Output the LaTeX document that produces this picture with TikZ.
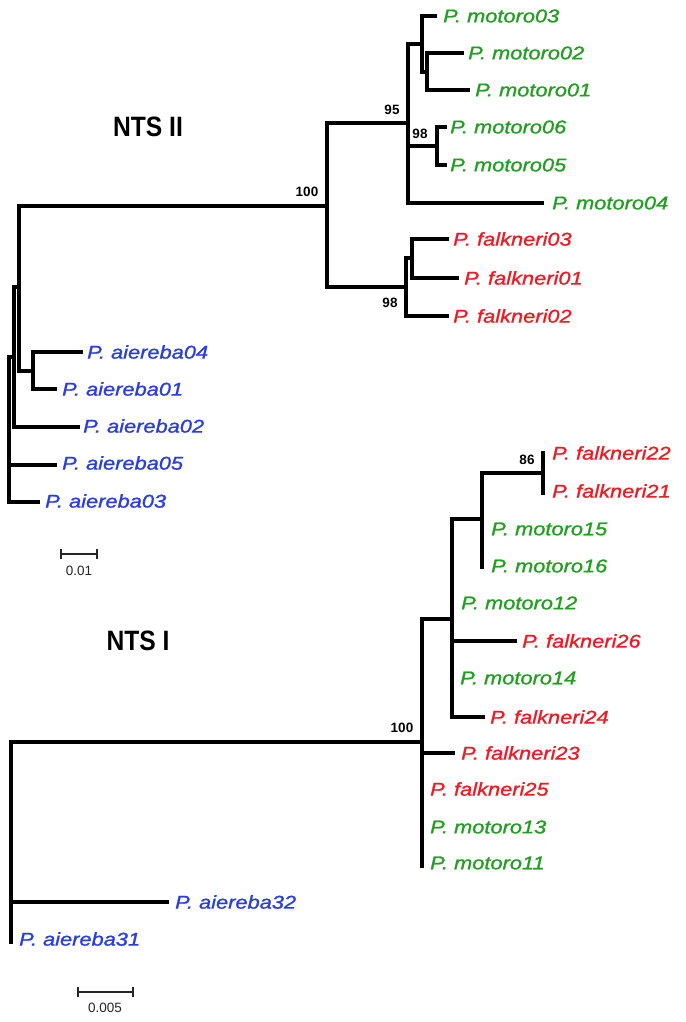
\documentclass[tikz,border=0pt]{standalone}
\usepackage{fontspec}
\setmainfont{Liberation Sans}
\newfontfamily\taxfont[FakeStretch=1.18,FakeBold=1.2]{Liberation Sans}
\newfontfamily\ntsfont[FakeStretch=0.88]{Liberation Sans}
\definecolor{mgreen}{RGB}{34,158,34}
\definecolor{fred}{RGB}{236,28,36}
\definecolor{ablue}{RGB}{42,62,222}
\tikzset{
  br/.style={line width=3.6pt, line join=miter, line cap=rect},
  tax/.style={anchor=west, inner sep=0pt, font=\taxfont\fontsize{18.5}{19}\selectfont\itshape},
  grn/.style={tax, text=mgreen},
  rd/.style={tax, text=fred},
  bl/.style={tax, text=ablue},
  boot/.style={inner sep=0pt, font=\fontsize{13.5}{14}\selectfont\bfseries},
  ntslab/.style={inner sep=0pt, font=\ntsfont\fontsize{28}{30}\selectfont\bfseries},
  sbar/.style={line width=1.6pt, black!85},
  slab/.style={inner sep=0pt, font=\fontsize{13.5}{14}\selectfont, text=black!85}
}
\begin{document}
\begin{tikzpicture}[x=1pt,y=-1pt]
\useasboundingbox (0,0) rectangle (685,1022);
% ================= NTS II =================
\node[ntslab] (ntsII) at (148,127) {NTS II};
% leaves
\node[grn] (m03) at (443,16) {P. motoro03};
\node[grn] (m02) at (468,53) {P. motoro02};
\node[grn] (m01) at (475,90) {P. motoro01};
\node[grn] (m06) at (450,127) {P. motoro06};
\node[grn] (m05) at (450,165) {P. motoro05};
\node[grn] (m04) at (552,203) {P. motoro04};
\node[rd] (f03) at (453,239) {P. falkneri03};
\node[rd] (f01) at (464,278) {P. falkneri01};
\node[rd] (f02) at (453,316) {P. falkneri02};
\node[bl] (a04) at (87,352) {P. aiereba04};
\node[bl] (a01) at (62,389) {P. aiereba01};
\node[bl] (a02) at (83,426) {P. aiereba02};
\node[bl] (a05) at (62,463) {P. aiereba05};
\node[bl] (a03) at (45,501) {P. aiereba03};
% tips
\coordinate (t03) at (435,16);
\coordinate (t02) at (462,53);
\coordinate (t01) at (468,90);
\coordinate (t06) at (445,127);
\coordinate (t05) at (445,165);
\coordinate (t04) at (542,203);
\coordinate (tf03) at (447,239);
\coordinate (tf01) at (457,278);
\coordinate (tf02) at (447,316);
\coordinate (ta04) at (81,352);
\coordinate (ta01) at (55,389);
\coordinate (ta02) at (78,427);
\coordinate (ta05) at (55,465);
\coordinate (ta03) at (38,502);
% internal nodes
\coordinate (Atop) at (9,357);
\coordinate (Abot) at (9,502);
\coordinate (B) at (14,357);
\coordinate (C) at (19,287);
\coordinate (E) at (33,371);
\coordinate (D) at (327,206);
\coordinate (H) at (408,123);
\coordinate (F) at (422,44);
\coordinate (G) at (427,72);
\coordinate (M) at (437,146);
\coordinate (K) at (406,287);
\coordinate (L) at (412,258);
% branches
\draw[br] (B) -- (Atop) -- (Abot) -- (ta03);
\draw[br] (Atop |- ta05) -- (ta05);
\draw[br] (C) -| (B) |- (ta02);
\draw[br] (D) -| (C) |- (E);
\draw[br] (ta04) -| (E) |- (ta01);
\draw[br] (H) -| (D) |- (K);
\draw[br] (F) -| (H) |- (t04);
\draw[br] (H |- M) -- (M);
\draw[br] (t03) -| (F) |- (G);
\draw[br] (t02) -| (G) |- (t01);
\draw[br] (t06) -| (M) |- (t05);
\draw[br] (L) -| (K) |- (tf02);
\draw[br] (tf03) -| (L) |- (tf01);
% bootstrap
\node[boot] (b100a) at (307,192) {100};
\node[boot] (b95) at (392,110) {95};
\node[boot] (b98a) at (420,134) {98};
\node[boot] (b98b) at (390,303) {98};
% scale bar
\coordinate (s1a) at (61,554);
\coordinate (s1b) at (97,554);
\draw[sbar] (s1a) -- (s1b);
\draw[sbar] ([yshift=-5pt]s1a) -- ([yshift=5pt]s1a);
\draw[sbar] ([yshift=-5pt]s1b) -- ([yshift=5pt]s1b);
\node[slab] (s1l) at (79,571) {0.01};
% ================= NTS I =================
\node[ntslab] (ntsI) at (138,641) {NTS I};
\node[rd] (f22) at (552,453) {P. falkneri22};
\node[rd] (f21) at (552,491) {P. falkneri21};
\node[grn] (m15) at (491,529) {P. motoro15};
\node[grn] (m16) at (491,566) {P. motoro16};
\node[grn] (m12) at (461,603) {P. motoro12};
\node[rd] (f26) at (522,641) {P. falkneri26};
\node[grn] (m14) at (460,678) {P. motoro14};
\node[rd] (f24) at (490,717) {P. falkneri24};
\node[rd] (f23) at (461,753) {P. falkneri23};
\node[rd] (f25) at (430,789) {P. falkneri25};
\node[grn] (m13) at (430,827) {P. motoro13};
\node[grn] (m11) at (430,863) {P. motoro11};
\node[bl] (a32) at (175,902) {P. aiereba32};
\node[bl] (a31) at (19,939) {P. aiereba31};
% tips / nodes
\coordinate (tf26) at (515,641);
\coordinate (tf24) at (483,717);
\coordinate (tf23) at (453,753);
\coordinate (ta32) at (167,902);
\coordinate (Rbot) at (11,942);
\coordinate (N100) at (422,742);
\coordinate (N100bot) at (422,866);
\coordinate (N452) at (452,619);
\coordinate (N452bot) at (452,717);
\coordinate (N482) at (482,519);
\coordinate (N482bot) at (482,567);
\coordinate (N543) at (543,473);
\coordinate (N543top) at (543,453);
\coordinate (N543bot) at (543,493);
\draw[br] (N100) -| (Rbot);
\draw[br] (Rbot |- ta32) -- (ta32);
\draw[br] (N452) -| (N100bot);
\draw[br] (N100bot |- tf23) -- (tf23);
\draw[br] (N482) -| (N452bot) -- (tf24);
\draw[br] (N452bot |- tf26) -- (tf26);
\draw[br] (N543) -| (N482bot);
\draw[br] (N543top) -- (N543bot);
\node[boot] (b86) at (527,460) {86};
\node[boot] (b100b) at (402,728) {100};
% scale bar
\coordinate (s2a) at (78,992);
\coordinate (s2b) at (133,992);
\draw[sbar] (s2a) -- (s2b);
\draw[sbar] ([yshift=-5pt]s2a) -- ([yshift=5pt]s2a);
\draw[sbar] ([yshift=-5pt]s2b) -- ([yshift=5pt]s2b);
\node[slab] (s2l) at (105,1008) {0.005};
\end{tikzpicture}
\end{document}
